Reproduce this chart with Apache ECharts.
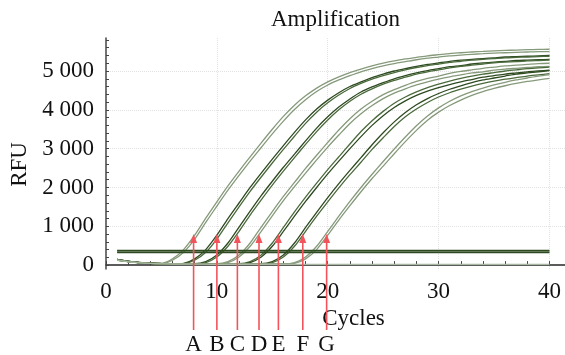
<!DOCTYPE html>
<html>
<head>
<meta charset="utf-8">
<script src="https://cdn.jsdelivr.net/npm/echarts@6/dist/echarts.min.js"></script>
<style>
  html, body { margin: 0; padding: 0; background: #fff; }
  #chart { width: 565px; height: 355px; }
</style>
</head>
<body>
<div id="chart"></div>
<script>
// 扩增曲线数据（cycles 1..40, RFU）
var cycles = [1,2,3,4,5,6,7,8,9,10,11,12,13,14,15,16,17,18,19,20,21,22,23,24,25,26,27,28,29,30,31,32,33,34,35,36,37,38,39,40]
var curveA1 = [150,100,68,50,45,160,400,770,1210,1630,2040,2420,2790,3150,3500,3830,4120,4360,4560,4720,4850,4960,5050,5130,5200,5260,5310,5350,5390,5420,5450,5470,5490,5505,5520,5530,5540,5548,5555,5560]
var curveA2 = [135,92,62,46,40,125,330,670,1100,1520,1930,2310,2680,3030,3380,3710,4010,4260,4470,4640,4770,4880,4980,5060,5130,5190,5240,5290,5330,5360,5390,5410,5430,5445,5460,5470,5480,5490,5500,5500]
var curveB1 = [145,98,66,48,40,36,45,160,400,770,1200,1600,2000,2370,2730,3080,3420,3740,4020,4250,4440,4600,4720,4830,4920,5000,5060,5120,5170,5210,5250,5280,5300,5320,5340,5360,5370,5380,5390,5400]
var curveB2 = [130,90,62,46,38,35,40,125,330,670,1090,1500,1900,2270,2630,2980,3320,3650,3940,4180,4380,4550,4680,4790,4880,4960,5030,5090,5140,5180,5220,5250,5280,5300,5320,5340,5350,5360,5370,5380]
var curveC1 = [150,100,68,50,42,37,35,35,90,260,570,980,1390,1790,2160,2520,2860,3200,3530,3820,4070,4280,4460,4590,4700,4800,4880,4950,5010,5060,5110,5140,5180,5210,5230,5250,5270,5280,5290,5300]
var curveC2 = [135,92,63,47,39,35,33,33,67,210,485,870,1290,1680,2060,2420,2770,3110,3440,3740,4000,4220,4400,4540,4660,4760,4840,4920,4980,5030,5080,5120,5150,5180,5210,5230,5240,5260,5270,5280]
var curveD1 = [145,97,66,49,41,37,35,34,34,35,90,260,570,980,1380,1770,2130,2490,2830,3160,3480,3770,4020,4220,4390,4520,4630,4730,4810,4870,4940,4990,5030,5070,5100,5130,5150,5170,5190,5200]
var curveD2 = [130,90,62,46,38,35,33,33,33,33,67,210,485,870,1270,1660,2020,2370,2710,3040,3350,3650,3900,4110,4290,4430,4540,4640,4720,4790,4850,4900,4950,4980,5020,5050,5070,5090,5110,5120]
var curveE1 = [140,95,65,48,40,36,34,33,33,34,34,35,90,260,570,970,1370,1750,2110,2460,2790,3120,3440,3720,3960,4170,4330,4460,4570,4660,4740,4810,4870,4920,4960,5000,5030,5060,5080,5100]
var curveE2 = [128,88,60,45,38,34,33,32,32,33,33,33,67,210,485,870,1260,1640,2000,2350,2680,3000,3310,3600,3850,4060,4230,4370,4480,4570,4650,4720,4780,4840,4880,4920,4950,4980,5000,5020]
var curveF1 = [145,97,66,49,41,37,35,34,33,33,34,34,35,35,90,260,570,970,1360,1740,2100,2440,2770,3100,3410,3690,3930,4130,4290,4420,4530,4620,4700,4770,4820,4870,4920,4950,4980,5010]
var curveF2 = [130,90,62,46,38,35,33,32,32,32,33,33,33,33,67,210,485,870,1260,1630,1990,2330,2650,2980,3280,3570,3820,4020,4190,4330,4440,4530,4610,4680,4740,4790,4830,4870,4900,4930]
var curveG1 = [140,95,65,48,40,36,34,33,32,32,32,33,33,33,34,34,67,210,485,870,1260,1640,2000,2340,2670,2990,3300,3590,3840,4050,4220,4360,4470,4560,4640,4710,4770,4820,4870,4900]
var curveG2 = [128,88,60,45,38,34,32,31,31,31,31,32,32,32,32,33,45,160,400,770,1160,1530,1890,2230,2550,2870,3180,3470,3730,3940,4110,4250,4370,4470,4550,4620,4680,4730,4770,4810]
var negControl = [120,85,58,42,33,28,25,23,22,21,20,20,20,20,20,20,20,20,20,20,20,20,20,20,20,20,20,20,20,20,20,20,20,20,20,20,20,20,20,20]
var thresholds = [375, 330]

// 箭头标注
var arrowLetters = ['A', 'B', 'C', 'D', 'E', 'F', 'G']
var arrowCycles = [7.9, 10, 11.85, 13.8, 15.55, 17.75, 19.9]
var arrowRfu = [800, 800, 800, 800, 800, 800, 800]

// 刻度
var yLabelValues = [0, 1000, 2000, 3000, 4000, 5000]
var yTickValues = [0,200,400,600,800,1000,1200,1400,1600,1800,2000,2200,2400,2600,2800,3000,3200,3400,3600,3800,4000,4200,4400,4600,4800,5000,5200,5400,5600,5800]
var xLabelValues = [0, 10, 20, 30, 40]
var xTickValues = [0,2,4,6,8,10,12,14,16,18,20,22,24,26,28,30,32,34,36,38,40]
var xGridValues = [10, 20, 30, 40]

var LIGHT = '#869a7b'
var DARK = '#2e4a20'
var MID = '#4b6a3c'
var FONT = 'Liberation Serif'

var curves = [
  { data: curveA1, color: LIGHT },
  { data: curveA2, color: LIGHT },
  { data: curveB1, color: DARK },
  { data: curveB2, color: MID },
  { data: curveC1, color: DARK },
  { data: curveC2, color: MID },
  { data: curveD1, color: LIGHT },
  { data: curveD2, color: LIGHT },
  { data: curveE1, color: MID },
  { data: curveE2, color: DARK },
  { data: curveF1, color: DARK },
  { data: curveF2, color: MID },
  { data: curveG1, color: LIGHT },
  { data: curveG2, color: LIGHT }
]

function pairs(arr) {
  return cycles.map(function (c, i) { return [c, arr[i]] })
}

var series = []
curves.forEach(function (c) {
  series.push({
    type: 'line',
    data: pairs(c.data),
    showSymbol: false,
    smooth: 0.25,
    lineStyle: { color: c.color, width: 1.3 },
    silent: true
  })
})
series.push({
  type: 'line',
  data: pairs(negControl),
  showSymbol: false,
  smooth: 0.25,
  lineStyle: { color: '#a9b8a0', width: 1.2 },
  silent: true
})
thresholds.forEach(function (t) {
  series.push({
    type: 'line',
    data: [[cycles[0], t], [cycles[cycles.length - 1], t]],
    showSymbol: false,
    lineStyle: { color: DARK, width: 1.7 },
    silent: true
  })
})

var yMin = -100
series.push({
  type: 'custom',
  z: 10,
  clip: false,
  silent: true,
  data: arrowCycles.map(function (c, i) { return [c, arrowRfu[i]] }),
  renderItem: function (params, api) {
    var tip = api.coord([api.value(0), api.value(1)])
    var base = api.coord([api.value(0), yMin])[1]
    var tail = base + 61
    var red = '#f2545b'
    return {
      type: 'group',
      children: [
        { type: 'line', shape: { x1: tip[0], y1: tip[1] + 6, x2: tip[0], y2: tail }, style: { stroke: red, lineWidth: 1.6 } },
        { type: 'polygon', shape: { points: [[tip[0], tip[1]], [tip[0] - 3.5, tip[1] + 9], [tip[0] + 3.5, tip[1] + 9]] }, style: { fill: red } },
        { type: 'text', x: tip[0], y: tail + 15, style: { text: arrowLetters[params.dataIndex], fill: '#111', font: '23px ' + FONT, align: 'center', verticalAlign: 'middle' } }
      ]
    }
  }
})

var myChart = echarts.init(document.getElementById('chart'), null, { renderer: 'canvas' })
var option = {
  animation: false,
  backgroundColor: '#fff',
  title: {
    text: 'Amplification',
    left: 266,
    top: 3,
    textStyle: { fontFamily: FONT, fontWeight: 'normal', fontSize: 23, color: '#111' }
  },
  grid: { left: 106, right: 0, top: 38, bottom: 86 },
  xAxis: [
    {
      type: 'value',
      min: 0,
      max: 41.4,
      name: 'Cycles',
      nameLocation: 'middle',
      nameGap: 38,
      nameTextStyle: { fontFamily: FONT, fontSize: 23, color: '#111', padding: [0, 0, 0, 36] },
      axisLine: { lineStyle: { color: '#444', width: 1.5 } },
      axisTick: { inside: true, length: 4, customValues: xTickValues, lineStyle: { color: '#444' } },
      axisLabel: { customValues: xLabelValues, margin: 11, fontFamily: FONT, fontSize: 23, color: '#111' },
      splitLine: { show: false }
    },
    {
      type: 'value',
      position: 'top',
      min: 0,
      max: 41.4,
      axisLine: { show: true, lineStyle: { color: '#555', width: 1.5 } },
      axisTick: { show: false, customValues: xGridValues },
      axisLabel: { show: false },
      splitLine: { show: true, lineStyle: { color: '#e2e2e2', type: 'dotted', width: 1 } }
    }
  ],
  yAxis: [
    {
      type: 'value',
      min: yMin,
      max: 5850,
      name: 'RFU',
      nameLocation: 'middle',
      nameRotate: 90,
      nameGap: 73,
      nameTextStyle: { fontFamily: FONT, fontSize: 23, color: '#111', padding: [0, 22, 0, 0] },
      axisLine: { show: true, lineStyle: { color: '#444', width: 1.5 } },
      axisTick: { inside: true, length: 3, customValues: yTickValues, lineStyle: { color: '#444' } },
      axisLabel: {
        customValues: yLabelValues,
        margin: 12,
        fontFamily: FONT,
        fontSize: 23,
        color: '#111',
        formatter: function (v) { return v === 0 ? '0' : (v / 1000) + ' 000' }
      },
      splitLine: { show: false }
    },
    {
      type: 'value',
      min: yMin,
      max: 5850,
      position: 'left',
      axisLine: { show: false },
      axisTick: { show: false, customValues: [1000, 2000, 3000, 4000, 5000] },
      axisLabel: { show: false },
      splitLine: { show: true, lineStyle: { color: '#e2e2e2', type: 'dotted', width: 1 } }
    }
  ],
  series: series
}
myChart.setOption(option)
</script>
</body>
</html>
